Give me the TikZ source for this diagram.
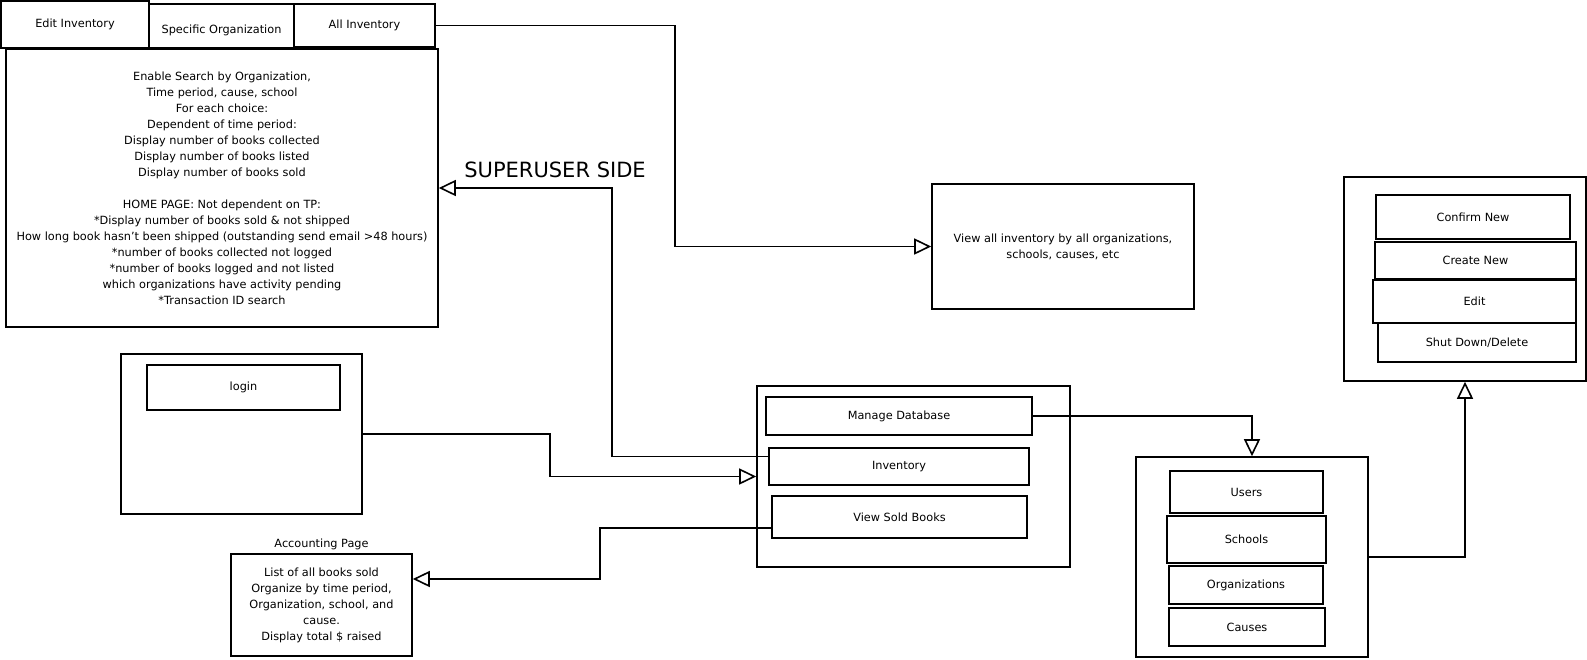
\documentclass[tikz,border=0pt]{standalone}
\usepackage{fontspec}
\setmainfont{DejaVu Sans}
\usetikzlibrary{arrows.meta,calc}
\begin{document}
\begin{tikzpicture}[x=1pt,y=-1pt,
  box/.style={draw=black,line width=1.6pt,fill=white,inner sep=0pt,align=center,
    font=\fontsize{11.3}{16}\selectfont},
  conn/.style={draw=black,line width=1.8pt,
    -{Triangle[open,length=17pt,width=16pt,line width=1.6pt,fill=white]}},
  lbl/.style={inner sep=0pt,font=\fontsize{11.3}{16}\selectfont}]
\useasboundingbox (0,0) rectangle (1587,659);

% top tabs
\node[box,line width=2.4pt,minimum width=148pt,minimum height=47pt] (editinv) at (75,24.5) {\raisebox{-2pt}{Edit Inventory}};
\node[box,minimum width=145pt,minimum height=44pt,text height=8.5pt,text depth=0pt] (specorg) at (221.5,26) {\raisebox{-3pt}{Specific Organization}};
\node[box,minimum width=141pt,minimum height=43pt] (allinv) at (364.5,25.5) {\raisebox{-1.5pt}{All Inventory}};

% search box
\node[box,minimum width=432pt,minimum height=278pt] (search) at (222,188) {Enable Search by Organization,\\
Time period, cause, school\\
For each choice:\\
Dependent of time period:\\
Display number of books collected\\
Display number of books listed\\
Display number of books sold\\
\mbox{}\\
HOME PAGE: Not dependent on TP:\\
*Display number of books sold \& not shipped\\
How long book hasn't been shipped (outstanding send email >48 hours)\\
*number of books collected not logged\\
*number of books logged and not listed\\
which organizations have activity pending\\
*Transaction ID search};

\node[inner sep=0pt,font=\fontsize{21}{24}\selectfont] (super) at (555,170) {SUPERUSER SIDE};

% view all
\node[box,minimum width=262pt,minimum height=125pt] (viewall) at (1063,246.5) {View all inventory by all organizations,\\schools, causes, etc};

% login
\node[box,minimum width=241pt,minimum height=160pt] (loginouter) at (241.5,434) {};
\node[box,minimum width=193pt,minimum height=45pt] (login) at (243.5,387.5) {\raisebox{-2pt}{login}};

% main menu
\node[box,minimum width=313pt,minimum height=181pt] (dbouter) at (913.5,476.5) {};
\node[box,minimum width=266pt,minimum height=38pt] (managedb) at (899,416) {Manage Database};
\node[box,minimum width=260pt,minimum height=37pt] (inventory) at (899,466.5) {Inventory};
\node[box,minimum width=255pt,minimum height=42pt] (viewsold) at (899.5,517) {View Sold Books};

% accounting
\node[lbl] (acctitle) at (321.5,544) {Accounting Page};
\node[box,minimum width=181pt,minimum height=102pt] (accounting) at (321.5,605) {List of all books sold\\
Organize by time period,\\
Organization, school, and\\
cause.\\
Display total \$ raised};

% entities
\node[box,minimum width=232pt,minimum height=200pt] (entities) at (1252,557) {};
\node[box,line width=2pt,minimum width=153pt,minimum height=42pt] (users) at (1246.5,492) {Users};
\node[box,line width=2pt,minimum width=159pt,minimum height=47pt] (schools) at (1246.5,539.5) {Schools};
\node[box,minimum width=154pt,minimum height=38pt] (orgs) at (1246,585) {Organizations};
\node[box,minimum width=156pt,minimum height=38pt] (causes) at (1247,627) {Causes};

% management
\node[box,minimum width=242pt,minimum height=204pt] (mgmt) at (1465,279) {};
\node[box,minimum width=194pt,minimum height=44pt] (confirm) at (1473,217) {Confirm New};
\node[box,minimum width=201pt,minimum height=37pt] (create) at (1475.5,260.5) {\raisebox{-3pt}{Create New}};
\node[box,minimum width=203pt,minimum height=43pt] (edit) at (1474.5,301.5) {Edit};
\node[box,minimum width=198pt,minimum height=39pt] (shut) at (1477,342.5) {Shut Down/Delete};

% bend coordinates
\coordinate (b1) at (675,0);
\coordinate (b2) at (550,0);
\coordinate (b3) at (612,0);
\coordinate (b4) at (600,0);
\coordinate (invout) at ([yshift=10pt]inventory.west);
\coordinate (vsout) at ([yshift=-11pt]viewsold.west);
\coordinate (acin) at ([yshift=26pt]accounting.east);

% connectors
\draw[conn] (allinv.east) -| (b1 |- viewall.west) -- (viewall.west);
\draw[conn] (loginouter.east) -| (b2 |- dbouter.west) -- (dbouter.west);
\draw[conn] (invout) -| (b3 |- search.east) -- (search.east);
\draw[conn] (vsout) -| (b4 |- acin) -- (acin);
\draw[conn] (managedb.east) -| (entities.north);
\draw[conn] (entities.east) -| (mgmt.south);
\end{tikzpicture}
\end{document}
